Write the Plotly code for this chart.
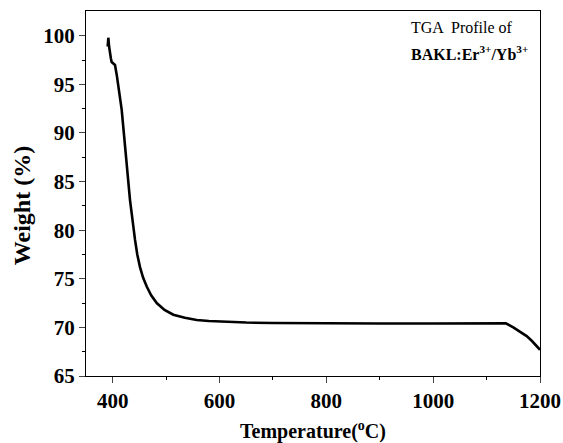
import plotly.graph_objects as go

temperature = [390.6, 391.8, 393.0, 394.5, 396.5, 398, 401, 404.3, 407.5, 412, 416.8, 420, 423, 426, 429,
               432.4, 435.6, 438.5, 441.8, 446, 451.1, 457, 463.7, 472, 482.4, 497, 513.5, 535,
               557.3, 580, 601, 650, 700, 750, 800, 900, 1000, 1100, 1136, 1150, 1162, 1175,
               1185, 1194, 1200]
weight = [98.9, 99.8, 99.0, 98.2, 97.7, 97.3, 97.1, 97.0, 96.0, 94.3, 92.4, 90.5, 88.6, 86.9, 85.2,
          83.1, 81.7, 80.3, 79.0, 77.5, 76.2, 75.1, 74.2, 73.3, 72.5, 71.8, 71.3, 71.0,
          70.76, 70.66, 70.59, 70.5, 70.45, 70.42, 70.4, 70.4, 70.4, 70.42, 70.42, 70.0,
          69.6, 69.1, 68.6, 68.1, 67.7]

x_ticks = [400, 600, 800, 1000, 1200]
y_ticks = [65, 70, 75, 80, 85, 90, 95, 100]

serif = "Liberation Serif, Times New Roman, serif"

fig = go.Figure()
fig.add_trace(go.Scatter(x=temperature, y=weight, mode="lines",
                         line=dict(color="black", width=2.6),
                         showlegend=False))

fig.update_layout(
    width=563, height=443,
    margin=dict(l=86, r=23, t=11, b=67),
    paper_bgcolor="white", plot_bgcolor="white",
    font=dict(family=serif, color="black"),
    xaxis=dict(range=[350, 1200], tickvals=x_ticks, ticks="outside", ticklen=6, tickwidth=1.3,
               showline=True, linecolor="black", linewidth=1.3, mirror=True, showgrid=False,
               zeroline=False, automargin=False,
               tickfont=dict(family=serif, size=21, color="black", weight="bold"),
               minor=dict(tickvals=[500, 700, 900, 1100], ticks="outside", ticklen=3, tickwidth=1.2,
                          tickcolor="black"),
               title=dict(text="Temperature(<sup>o</sup>C)",
                          font=dict(family=serif, size=20, color="black", weight="bold"))),
    yaxis=dict(range=[65, 102.55], tickvals=y_ticks, ticks="outside", ticklen=6, tickwidth=1.3,
               showline=True, linecolor="black", linewidth=1.3, mirror=True, showgrid=False,
               zeroline=False, automargin=False,
               tickfont=dict(family=serif, size=21, color="black", weight="bold"),
               minor=dict(tickvals=[67.5, 72.5, 77.5, 82.5, 87.5, 92.5, 97.5], ticks="outside",
                          ticklen=3, tickwidth=1.2, tickcolor="black")),
    annotations=[
        dict(text="Weight (%)", xref="paper", yref="paper", x=-0.141, y=0.468,
             xanchor="center", yanchor="middle", textangle=-90, showarrow=False,
             font=dict(family=serif, size=24, color="black", weight="bold")),
        dict(text="TGA  Profile of", xref="paper", yref="paper", x=0.712, y=0.955,
             xanchor="left", yanchor="middle", showarrow=False,
             font=dict(family=serif, size=16, color="black")),
        dict(text="BAKL:Er<sup>3+</sup>/Yb<sup>3+</sup>", xref="paper", yref="paper", x=0.712, y=0.885,
             xanchor="left", yanchor="middle", showarrow=False,
             font=dict(family=serif, size=16, color="black", weight="bold")),
    ],
)

fig.write_html("out.html", config={"displayModeBar": False},
               post_script="document.body.style.margin='0';")
